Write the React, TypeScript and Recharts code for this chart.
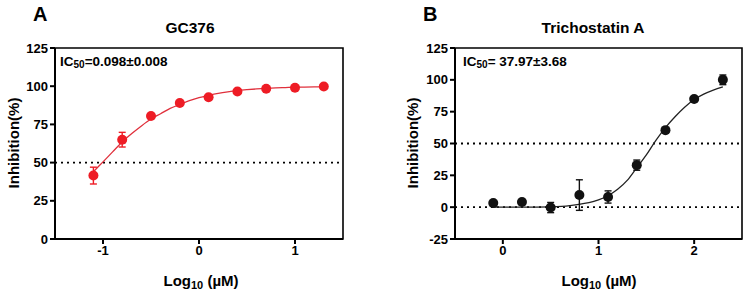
import { ComposedChart, Line, Scatter, ErrorBar, XAxis, YAxis, ReferenceLine, ReferenceArea } from 'recharts';

// GC376 measured points
const gcX = [-1.1, -0.8, -0.5, -0.2, 0.1, 0.4, 0.7, 1.0, 1.3];
const gcY = [41.5, 65, 80.5, 89, 92.8, 96.5, 98.3, 99, 99.8];
const gcErr = [5.5, 4.8, 0, 0, 0, 0, 0, 0, 0];
// GC376 fitted curve
const gcFitX = [-1.1, -1.0, -0.9, -0.8, -0.7, -0.6, -0.5, -0.4, -0.3, -0.2, -0.1, 0, 0.1, 0.2, 0.3, 0.4, 0.5, 0.6, 0.7, 0.8, 0.9, 1.0, 1.1, 1.2, 1.3];
const gcFitY = [44, 50.5, 57, 63.5, 69, 74, 78.5, 82, 85.5, 88, 90.5, 92.5, 94, 95.3, 96.3, 97.1, 97.7, 98.2, 98.6, 98.9, 99.1, 99.3, 99.4, 99.5, 99.6];

// Trichostatin A measured points
const tsaX = [-0.1, 0.2, 0.5, 0.8, 1.1, 1.4, 1.7, 2.0, 2.3];
const tsaY = [3.2, 4, -0.3, 9.5, 8, 33, 60.5, 85, 100];
const tsaErr = [0, 0, 4, 12, 4.8, 4, 0, 0, 3.8];
// Trichostatin A fitted curve
const tsaFitX = [-0.1, 0.2, 0.5, 0.7, 0.8, 0.9, 1.0, 1.1, 1.2, 1.3, 1.4, 1.5, 1.6, 1.7, 1.8, 1.9, 2.0, 2.1, 2.2, 2.3];
const tsaFitY = [0, 0, 0.3, 1.2, 2.3, 3.6, 5.8, 9, 14, 21, 31, 41, 52.5, 62.5, 71, 78.5, 84.5, 88.8, 92, 94.5];

const gcYTicks = [0, 25, 50, 75, 100, 125];
const gcXTicks = [-1, 0, 1];
const tsaYTicks = [-25, 0, 25, 50, 75, 100, 125];
const tsaXTicks = [0, 1, 2];

const FONT = 'Arial, "Liberation Sans", Helvetica, sans-serif';

const zip = (xs: number[], ys: number[], es?: number[]) =>
  xs.map((x, i) => ({ x, y: ys[i], err: es ? es[i] : 0 }));

interface PanelProps {
  left: number;
  width: number;
  marginLeft: number;
  marginRight: number;
  letter: string;
  letterX: number;
  title: string;
  titleX: number;
  ic50: string;
  icX: number;
  yLabelX: number;
  xLabelX: number;
  points: { x: number; y: number; err: number }[];
  fit: { x: number; y: number; err: number }[];
  xDomain: [number, number];
  yDomain: [number, number];
  xTicks: number[];
  yTicks: number[];
  refLines: number[];
  dotColor: string;
  lineColor: string;
}

function Panel(p: PanelProps) {
  const tick = { fill: '#000', fontSize: 13, fontWeight: 700, fontFamily: FONT };
  return (
    <div style={{ position: 'absolute', left: p.left, top: 0, width: p.width, height: 296 }}>
      <ComposedChart width={p.width} height={296} margin={{ top: 48, right: p.marginRight, bottom: 27, left: p.marginLeft }}>
        <XAxis
          type="number"
          dataKey="x"
          domain={p.xDomain}
          ticks={p.xTicks}
          allowDataOverflow
          height={30}
          tick={tick}
          tickSize={5}
          axisLine={{ stroke: '#000', strokeWidth: 2 }}
          tickLine={{ stroke: '#000', strokeWidth: 2 }}
        />
        <YAxis
          type="number"
          dataKey="y"
          domain={p.yDomain}
          ticks={p.yTicks}
          allowDataOverflow
          width={45}
          tick={tick}
          tickSize={5}
          axisLine={{ stroke: '#000', strokeWidth: 2 }}
          tickLine={{ stroke: '#000', strokeWidth: 2 }}
        />
        <ReferenceArea
          x1={p.xDomain[0]}
          x2={p.xDomain[1]}
          y1={p.yDomain[0]}
          y2={p.yDomain[1]}
          fill="none"
          stroke="#000"
          strokeWidth={1.6}
        />
        {p.refLines.map((v) => (
          <ReferenceLine key={v} y={v} stroke="#000" strokeWidth={1.8} strokeDasharray="2 4" />
        ))}
        <Line
          data={p.fit}
          dataKey="y"
          type="monotone"
          stroke={p.lineColor}
          strokeWidth={1.3}
          dot={false}
          activeDot={false}
          isAnimationActive={false}
        />
        <Scatter
          data={p.points}
          dataKey="y"
          fill={p.dotColor}
          isAnimationActive={false}
          shape={(s: any) => <circle cx={s.cx} cy={s.cy} r={5} fill={p.dotColor} />}
        >
          <ErrorBar dataKey="err" direction="y" width={3.5} stroke={p.dotColor} strokeWidth={1.4} />
        </Scatter>
      </ComposedChart>

      <div style={{ position: 'absolute', left: p.letterX, top: 3, fontSize: 20, fontWeight: 700, fontFamily: FONT }}>
        {p.letter}
      </div>
      <div style={{ position: 'absolute', left: p.titleX - 100, width: 200, top: 19, textAlign: 'center', fontSize: 15.5, fontWeight: 700, fontFamily: FONT }}>
        {p.title}
      </div>
      <div style={{ position: 'absolute', left: p.icX, top: 54, fontSize: 13.5, fontWeight: 700, fontFamily: FONT, whiteSpace: 'nowrap' }}>
        IC<sub style={{ fontSize: 10, verticalAlign: -2 }}>50</sub>
        {p.ic50}
      </div>
      <div
        style={{
          position: 'absolute',
          left: p.yLabelX,
          top: 143,
          transform: 'translate(-50%, -50%) rotate(-90deg)',
          fontSize: 15,
          fontWeight: 700,
          fontFamily: FONT,
          whiteSpace: 'nowrap',
        }}
      >
        Inhibition(%)
      </div>
      <div
        style={{
          position: 'absolute',
          left: p.xLabelX - 100,
          width: 200,
          top: 272,
          textAlign: 'center',
          fontSize: 15,
          fontWeight: 700,
          fontFamily: FONT,
          whiteSpace: 'nowrap',
        }}
      >
        Log<sub style={{ fontSize: 11, verticalAlign: -3 }}>10</sub> (µM)
      </div>
    </div>
  );
}

export default function App() {
  return (
    <div style={{ position: 'fixed', left: 0, top: 0, width: 749, height: 296, background: '#fff', overflow: 'hidden' }}>
      <Panel
        left={0}
        width={375}
        marginLeft={10}
        marginRight={32}
        letter="A"
        letterX={33}
        title="GC376"
        titleX={190}
        ic50="=0.098±0.008"
        icX={60}
        yLabelX={13}
        xLabelX={201}
        points={zip(gcX, gcY, gcErr)}
        fit={zip(gcFitX, gcFitY)}
        xDomain={[-1.5, 1.5]}
        yDomain={[0, 125]}
        xTicks={gcXTicks}
        yTicks={gcYTicks}
        refLines={[50]}
        dotColor="#EE1C25"
        lineColor="#E0303C"
      />
      <Panel
        left={375}
        width={374}
        marginLeft={35}
        marginRight={7}
        letter="B"
        letterX={48}
        title="Trichostatin A"
        titleX={218}
        ic50="= 37.97±3.68"
        icX={88}
        yLabelX={37}
        xLabelX={224}
        points={zip(tsaX, tsaY, tsaErr)}
        fit={zip(tsaFitX, tsaFitY)}
        xDomain={[-0.5, 2.5]}
        yDomain={[-25, 125]}
        xTicks={tsaXTicks}
        yTicks={tsaYTicks}
        refLines={[50, 0]}
        dotColor="#111"
        lineColor="#222"
      />
    </div>
  );
}
